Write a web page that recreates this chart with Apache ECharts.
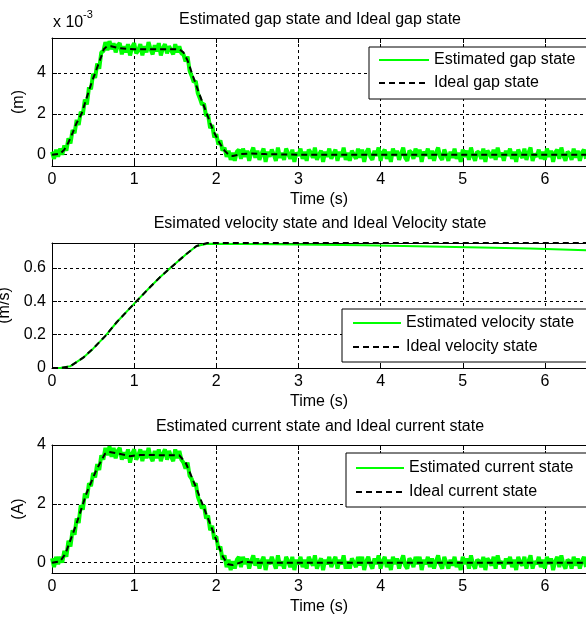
<!DOCTYPE html>
<html>
<head>
<meta charset="utf-8">
<script src="https://cdn.jsdelivr.net/npm/echarts@6/dist/echarts.min.js"></script>
<style>
  html, body { margin: 0; padding: 0; background: #fff; }
  #chart { width: 586px; height: 622px; }
</style>
</head>
<body>
<div id="chart"></div>
<script>
// sample step of the estimated (noisy) signals, seconds
const dt = 0.025;

const xTicks = [0, 1, 2, 3, 4, 5, 6];

// gap, in units of 1e-3 m
const gapTicks = [0, 2, 4];
const gapIdealT = [0, 0.1, 0.15, 0.2, 0.25, 0.3, 0.36, 0.42, 0.48, 0.54, 0.6, 0.63, 0.67, 0.72, 0.8, 0.9, 1.0, 1.55, 1.6, 1.65, 1.71, 1.79, 1.875, 1.96, 2.04, 2.1, 2.15, 2.2, 2.3, 2.4, 2.6, 3.0, 6.5];
const gapIdealV = [0, 0.05, 0.25, 0.6, 1.06, 1.55, 2.0, 2.75, 3.5, 4.15, 4.8, 5.15, 5.3, 5.3, 5.22, 5.17, 5.15, 5.15, 5.0, 4.6, 3.9, 3.0, 2.1, 1.2, 0.57, 0.2, 0.0, -0.06, 0.03, 0.06, 0.03, 0.0, 0.0];
// estimated gap, one value every dt from t = 0
const gapEst = [
  0.15, -0.2, 0.25, -0.1, 0.3, 0.0, 0.45, 0.2, 0.8, 0.55, 1.2, 1.05, 1.7, 1.45, 2.1, 1.95, 2.7, 2.45, 3.3, 3.2,
  3.95, 3.75, 4.45, 4.2, 5.0, 5.05, 5.5, 5.1, 5.55, 5.15, 5.45, 5.0, 5.35, 5.45, 4.9, 5.3, 5.0, 5.4, 4.85, 5.25,
  5.45, 4.95, 5.1, 5.4, 4.85, 5.3, 5.0, 5.5, 5.15, 4.9, 5.35, 5.05, 5.45, 4.85, 5.2, 5.4, 4.95, 5.3, 5.1, 4.9,
  5.4, 5.0, 5.3, 4.95, 4.9, 4.55, 4.8, 4.1, 3.85, 3.55, 3.6, 3.0, 2.75, 2.45, 2.5, 1.9, 1.95, 1.3, 1.45, 0.85,
  1.0, 0.5, 0.7, 0.2, 0.35, -0.1, 0.2, -0.25, 0.1, -0.3, 0.15, 0.25, -0.2, 0.3, -0.1, 0.2, -0.3, 0.1, 0.35, -0.15,
  0.2, -0.25, 0.05, 0.3, -0.35, 0.15, -0.1, 0.25, 0.0, -0.3, 0.35, -0.15, 0.1, -0.25, 0.3, 0.05, -0.2, 0.25, -0.35, 0.1,
  -0.05, 0.3, -0.2, 0.15, -0.3, 0.25, 0.1, -0.15, 0.35, -0.25, 0.0, 0.2, -0.35, 0.15, -0.1, 0.3, -0.2, 0.05, 0.25, -0.3,
  0.15, -0.1, 0.35, -0.25, 0.1, -0.3, 0.2, 0.0, -0.2, 0.3, -0.15, 0.25, -0.35, 0.1, 0.3, -0.1, -0.25, 0.2, -0.05, 0.35,
  -0.3, 0.1, 0.25, -0.2, 0.15, -0.35, 0.3, -0.05, 0.2, -0.25, 0.05, 0.35, -0.15, -0.3, 0.2, 0.1, -0.2, 0.3, -0.1, 0.25,
  -0.35, 0.15, -0.05, 0.3, -0.2, 0.2, -0.3, 0.1, 0.35, -0.1, -0.25, 0.25, 0.0, -0.3, 0.15, -0.15, 0.3, -0.2, 0.1, -0.35,
  0.25, -0.1, 0.2, -0.25, 0.35, -0.05, -0.3, 0.15, 0.1, -0.2, 0.3, -0.35, 0.2, 0.05, -0.15, 0.25, -0.25, 0.35, -0.1, 0.1,
  -0.3, 0.2, -0.05, 0.3, -0.2, 0.15, -0.35, 0.25, 0.0, -0.15, 0.3, -0.25, 0.1, 0.35, -0.3, 0.05, -0.1, 0.25, -0.2, 0.15,
  -0.25, 0.3, -0.1, 0.2, -0.35, 0.1, 0.25, -0.2, 0.35, -0.05, -0.3, 0.15, 0.05, -0.25, 0.3, -0.15, 0.2, -0.3, 0.1, 0.25,
  -0.2
];

// velocity, m/s
const velTicks = [0, 0.2, 0.4, 0.6];
const velIdealT = [0, 0.1, 0.22, 0.38, 0.5, 0.645, 0.79, 1.0, 1.195, 1.317, 1.44, 1.64, 1.76, 1.89, 6.5];
const velIdealV = [0, 0, 0.01, 0.062, 0.116, 0.19, 0.276, 0.386, 0.486, 0.546, 0.6, 0.686, 0.732, 0.75, 0.75];
const velEstT = [0, 0.1, 0.22, 0.38, 0.5, 0.645, 0.79, 1.0, 1.195, 1.317, 1.44, 1.64, 1.76, 1.89, 2.7, 3.8, 3.82, 4.76, 4.78, 5.82, 5.84, 6.5];
const velEstV = [0, 0, 0.01, 0.062, 0.116, 0.19, 0.276, 0.386, 0.486, 0.546, 0.6, 0.686, 0.732, 0.746, 0.742, 0.737, 0.73, 0.727, 0.72, 0.717, 0.71, 0.707];

// current, A
const curTicks = [0, 2, 4];
const curIdealT = [0, 0.1, 0.15, 0.18, 0.3, 0.42, 0.54, 0.645, 0.685, 0.79, 0.95, 1.07, 1.55, 1.63, 1.75, 1.875, 2.0, 2.08, 2.14, 2.2, 2.32, 2.5, 6.5];
const curIdealV = [0, 0.05, 0.25, 0.43, 1.34, 2.36, 3.15, 3.7, 3.77, 3.72, 3.62, 3.66, 3.65, 3.38, 2.58, 1.68, 0.77, 0.2, -0.05, -0.08, 0.03, 0.0, 0.0];
// estimated current, one value every dt from t = 0
const curEst = [
  0.15, -0.15, 0.2, -0.05, 0.2, 0.0, 0.4, 0.2, 0.75, 0.55, 1.1, 0.95, 1.5, 1.35, 1.95, 1.8, 2.35, 2.2, 2.7, 2.6,
  3.05, 2.9, 3.35, 3.15, 3.65, 3.5, 3.9, 3.65, 3.95, 3.6, 3.9, 3.55, 3.8, 3.9, 3.5, 3.75, 3.55, 3.85, 3.4, 3.7,
  3.85, 3.5, 3.65, 3.85, 3.45, 3.8, 3.55, 3.9, 3.6, 3.45, 3.8, 3.55, 3.85, 3.45, 3.7, 3.85, 3.5, 3.8, 3.6, 3.45,
  3.85, 3.55, 3.8, 3.5, 3.4, 3.2, 3.4, 2.95, 2.85, 2.6, 2.7, 2.25, 2.05, 1.85, 1.95, 1.5, 1.6, 1.1, 1.25, 0.8,
  0.9, 0.45, 0.55, 0.1, 0.25, -0.15, 0.1, -0.25, 0.05, -0.2, 0.1, 0.2, -0.15, 0.2, -0.05, 0.15, -0.2, 0.05, 0.25, -0.1,
  0.15, -0.2, 0.05, 0.2, -0.25, 0.1, -0.05, 0.2, 0.0, -0.2, 0.25, -0.1, 0.05, -0.2, 0.2, 0.05, -0.15, 0.2, -0.25, 0.1,
  -0.05, 0.2, -0.15, 0.1, -0.2, 0.2, 0.05, -0.1, 0.25, -0.2, 0.0, 0.15, -0.25, 0.1, -0.05, 0.2, -0.15, 0.05, 0.2, -0.2,
  0.1, -0.05, 0.25, -0.2, 0.05, -0.2, 0.15, 0.0, -0.15, 0.2, -0.1, 0.2, -0.25, 0.05, 0.2, -0.05, -0.2, 0.15, -0.05, 0.25,
  -0.2, 0.05, 0.2, -0.15, 0.1, -0.25, 0.2, -0.05, 0.15, -0.2, 0.05, 0.25, -0.1, -0.2, 0.15, 0.05, -0.15, 0.2, -0.05, 0.2,
  -0.25, 0.1, -0.05, 0.2, -0.15, 0.15, -0.2, 0.05, 0.25, -0.05, -0.2, 0.2, 0.0, -0.2, 0.1, -0.1, 0.2, -0.15, 0.05, -0.25,
  0.2, -0.05, 0.15, -0.2, 0.25, -0.05, -0.2, 0.1, 0.05, -0.15, 0.2, -0.25, 0.15, 0.05, -0.1, 0.2, -0.2, 0.25, -0.05, 0.05,
  -0.2, 0.15, -0.05, 0.2, -0.15, 0.1, -0.25, 0.2, 0.0, -0.1, 0.2, -0.2, 0.05, 0.25, -0.2, 0.05, -0.05, 0.2, -0.15, 0.1,
  -0.2, 0.2, -0.05, 0.15, -0.25, 0.05, 0.2, -0.15, 0.25, -0.05, -0.2, 0.1, 0.05, -0.2, 0.2, -0.1, 0.15, -0.2, 0.05, 0.2,
  -0.15
];

const titles = [
  "Estimated gap state and Ideal gap state",
  "Esimated velocity state and Ideal Velocity state",
  "Estimated current state and Ideal current state"
];
const yNames = ["(m)", "(m/s)", "(A)"];
const names = [
  ["Estimated gap state", "Ideal gap state"],
  ["Estimated velocity state", "Ideal velocity state"],
  ["Estimated current state", "Ideal current state"]
];

function pairs(t, v) {
  return t.map(function (x, i) { return [x, v[i]]; });
}
function sampled(v) {
  return v.map(function (y, i) { return [Math.round(i * dt * 1000) / 1000, y]; });
}

const FONT = "'Liberation Sans', Arial, sans-serif";
const GREEN = "#00ff00";

const grids = [
  { left: 52, top: 38, width: 534, height: 128, outerBoundsMode: "none", containLabel: false },
  { left: 52, top: 243, width: 534, height: 125, outerBoundsMode: "none", containLabel: false },
  { left: 52, top: 445, width: 534, height: 128, outerBoundsMode: "none", containLabel: false }
];
const yRanges = [[-0.55, 5.7], [0, 0.75], [-0.35, 4]];
const yTicks = [gapTicks, velTicks, curTicks];
const yNameGaps = [24, 34, 24];

const gridLine = { show: true, lineStyle: { color: "#000", width: 1, type: [3, 3] } };

const xAxes = [];
const yAxes = [];
for (let i = 0; i < 3; i++) {
  xAxes.push({
    type: "value", gridIndex: i, min: 0, max: 6.5,
    name: "Time (s)", nameLocation: "middle", nameGap: 26,
    nameTextStyle: { fontSize: 16, color: "#000", fontFamily: FONT },
    axisLine: { show: true, onZero: false, lineStyle: { color: "#000", width: 1 } },
    axisTick: { show: true, inside: true, length: 5, customValues: xTicks, lineStyle: { color: "#000" } },
    axisLabel: { show: true, margin: 6, fontSize: 16, color: "#000", fontFamily: FONT, customValues: xTicks },
    splitLine: gridLine
  });
  yAxes.push({
    type: "value", gridIndex: i, min: yRanges[i][0], max: yRanges[i][1],
    name: yNames[i], nameLocation: "middle", nameGap: yNameGaps[i], nameRotate: 90,
    nameTextStyle: { fontSize: 16, color: "#000", fontFamily: FONT },
    axisLine: { show: true, onZero: false, lineStyle: { color: "#000", width: 1 } },
    axisTick: { show: true, inside: true, length: 5, customValues: yTicks[i], lineStyle: { color: "#000" } },
    axisLabel: { show: true, margin: 6, fontSize: 16, color: "#000", fontFamily: FONT, customValues: yTicks[i] },
    splitLine: gridLine
  });
}
// top frame with inward ticks
for (let i = 0; i < 3; i++) {
  xAxes.push({
    type: "value", gridIndex: i, min: 0, max: 6.5, position: "top",
    axisLine: { show: true, onZero: false, lineStyle: { color: "#000", width: 1 } },
    axisTick: { show: true, inside: true, length: 5, customValues: xTicks, lineStyle: { color: "#000" } },
    axisLabel: { show: false },
    splitLine: { show: false }
  });
}

const estData = [sampled(gapEst), pairs(velEstT, velEstV), sampled(curEst)];
const idealData = [pairs(gapIdealT, gapIdealV), pairs(velIdealT, velIdealV), pairs(curIdealT, curIdealV)];
const estWidth = [4, 2, 4];

const series = [];
for (let i = 0; i < 3; i++) {
  series.push({
    name: names[i][0], type: "line", xAxisIndex: i, yAxisIndex: i,
    data: estData[i], symbol: "none", showSymbol: false, clip: true,
    lineStyle: { color: GREEN, width: estWidth[i] }, itemStyle: { color: GREEN }
  });
  series.push({
    name: names[i][1], type: "line", xAxisIndex: i, yAxisIndex: i,
    data: idealData[i], symbol: "none", showSymbol: false, clip: true,
    lineStyle: { color: "#000", width: 2, type: [6, 4] }, itemStyle: { color: "#000" }
  });
}

// legend boxes, one per subplot
const legendPos = [
  { left: 369, top: 47, padding: [5, 20, 8, 9], itemGap: 7, itemWidth: 50 },
  { left: 342, top: 309, padding: [6, 20, 7, 10], itemGap: 8, itemWidth: 48 },
  { left: 346, top: 453, padding: [7, 20, 7, 9], itemGap: 8, itemWidth: 48 }
];
const legends = legendPos.map(function (p, i) {
  return {
    orient: "vertical", left: p.left, top: p.top, padding: p.padding,
    itemGap: p.itemGap, itemWidth: p.itemWidth, itemHeight: 14,
    backgroundColor: "#fff", borderColor: "#000", borderWidth: 1,
    selectedMode: false,
    itemStyle: { opacity: 0 },
    textStyle: { fontSize: 16, color: "#000", fontFamily: FONT, lineHeight: 16 },
    data: [
      { name: names[i][0], lineStyle: { width: 2 } },
      { name: names[i][1] }
    ]
  };
});

const titleY = [12, 216, 419];
const graphics = titles.map(function (t, i) {
  return {
    type: "text", x: 320, y: titleY[i],
    style: { text: t, fill: "#000", font: "16px " + FONT, align: "center", verticalAlign: "top" }
  };
});
graphics.push({ type: "text", x: 53, y: 15, style: { text: "x 10", fill: "#000", font: "16px " + FONT, verticalAlign: "top" } });
graphics.push({ type: "text", x: 83, y: 9, style: { text: "-3", fill: "#000", font: "11px " + FONT, verticalAlign: "top" } });

const chart = echarts.init(document.getElementById("chart"), null, { renderer: "canvas" });
chart.setOption({
  animation: false,
  backgroundColor: "#fff",
  textStyle: { fontFamily: FONT },
  grid: grids,
  xAxis: xAxes,
  yAxis: yAxes,
  legend: legends,
  graphic: graphics,
  series: series
});
</script>
</body>
</html>
